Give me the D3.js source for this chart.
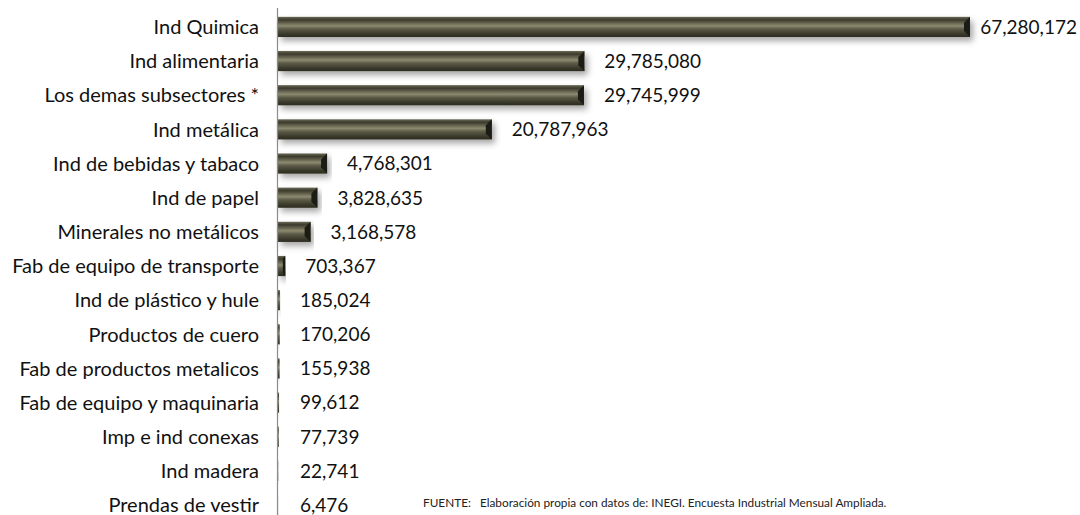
<!DOCTYPE html>
<html>
<head>
<meta charset="UTF-8">
<title>subsectores</title>
<script src="https://cdn.jsdelivr.net/npm/d3@7/dist/d3.min.js"></script>
<style>
  body { margin: 0; background: #fff; }
  text { font-family: Lato, "Open Sans", sans-serif; }
</style>
</head>
<body>
<svg id="chart" width="1080" height="515"></svg>
<script>
// datos
var categorias = ["Ind Quimica", "Ind alimentaria", "Los demas subsectores *", "Ind metálica",
  "Ind de bebidas y tabaco", "Ind de papel", "Minerales no metálicos", "Fab de equipo de transporte",
  "Ind de plástico y hule", "Productos de cuero", "Fab de productos metalicos",
  "Fab de equipo y maquinaria", "Imp e ind conexas", "Ind madera", "Prendas de vestir"];
var valores = [67280172, 29785080, 29745999, 20787963, 4768301, 3828635, 3168578, 703367,
  185024, 170206, 155938, 99612, 77739, 22741, 6476];
var fuente = "FUENTE:   Elaboración propia con datos de: INEGI. Encuesta Industrial Mensual Ampliada.";

var svg = d3.select("#chart"),
    W = 1080, H = 515,
    x0 = 278;

var x = d3.scaleLinear().domain([0, 67280172]).range([x0, 970]);
var y = d3.scaleBand().domain(categorias).range([10, 522]).paddingInner(0.41).paddingOuter(0.2);

var defs = svg.append("defs");
var g = defs.append("linearGradient").attr("id", "barra").attr("x1", 0).attr("y1", 0).attr("x2", 0).attr("y2", 1);
g.append("stop").attr("offset", "0%").attr("stop-color", "#6a6856");
g.append("stop").attr("offset", "15%").attr("stop-color", "#3c3a2c");
g.append("stop").attr("offset", "45%").attr("stop-color", "#8c8a70");
g.append("stop").attr("offset", "60%").attr("stop-color", "#5e5c48");
g.append("stop").attr("offset", "85%").attr("stop-color", "#3a392b");
g.append("stop").attr("offset", "100%").attr("stop-color", "#2c2b20");

var f = defs.append("filter").attr("id", "sombra").attr("x", "-5%").attr("y", "-40%").attr("width", "115%").attr("height", "200%");
f.append("feDropShadow").attr("dx", 3).attr("dy", 4).attr("stdDeviation", 3).attr("flood-color", "#000").attr("flood-opacity", 0.35);

var bh = y.bandwidth();

var barras = svg.append("g").selectAll("g").data(valores).enter().append("g")
  .attr("filter", "url(#sombra)");

barras.append("rect")
  .attr("x", x0)
  .attr("y", function(d, i) { return y(categorias[i]); })
  .attr("width", function(d) { return x(d) - x0; })
  .attr("height", bh)
  .attr("fill", "url(#barra)");

// bisel derecho
barras.append("path")
  .attr("d", function(d, i) {
    var w = x(d) - x0;
    if (w < 6) return "";
    var e = x(d), t = y(categorias[i]), b = Math.min(6, w / 3);
    return "M" + e + "," + t + "L" + e + "," + (t + bh) + "L" + (e - b) + "," + (t + bh - b) + "L" + (e - b) + "," + (t + b) + "Z";
  })
  .attr("fill", "#1e1d14");

// eje
svg.append("line").attr("x1", 277.5).attr("x2", 277.5).attr("y1", 8).attr("y2", 515)
  .attr("stroke", "#8c8c8c").attr("stroke-width", 1.2);

// etiquetas de categoria
svg.append("g").selectAll("text").data(categorias).enter().append("text")
  .attr("x", 259)
  .attr("y", function(d) { return y(d) + bh / 2; })
  .attr("dy", "0.36em")
  .attr("text-anchor", "end")
  .attr("font-size", 20)
  .attr("fill", "#111")
  .text(function(d) { return d; });

// etiquetas de valor
var fmt = d3.format(",");
svg.append("g").selectAll("text").data(valores).enter().append("text")
  .attr("x", function(d) { return Math.max(x(d) + 20, 300); })
  .attr("y", function(d, i) { return y(categorias[i]) + bh / 2; })
  .attr("dy", "0.36em")
  .attr("font-size", 19)
  .attr("fill", "#111")
  .text(function(d) { return fmt(d); })
  .each(function() {
    var bb = this.getBBox();
    if (bb.x + bb.width > W - 3) d3.select(this).attr("x", W - 3 - bb.width);
  });

svg.append("text")
  .attr("x", 423).attr("y", 507)
  .attr("font-size", 11.8)
  .attr("fill", "#222")
  .attr("xml:space", "preserve")
  .style("white-space", "pre")
  .text(fuente);
</script>
</body>
</html>
